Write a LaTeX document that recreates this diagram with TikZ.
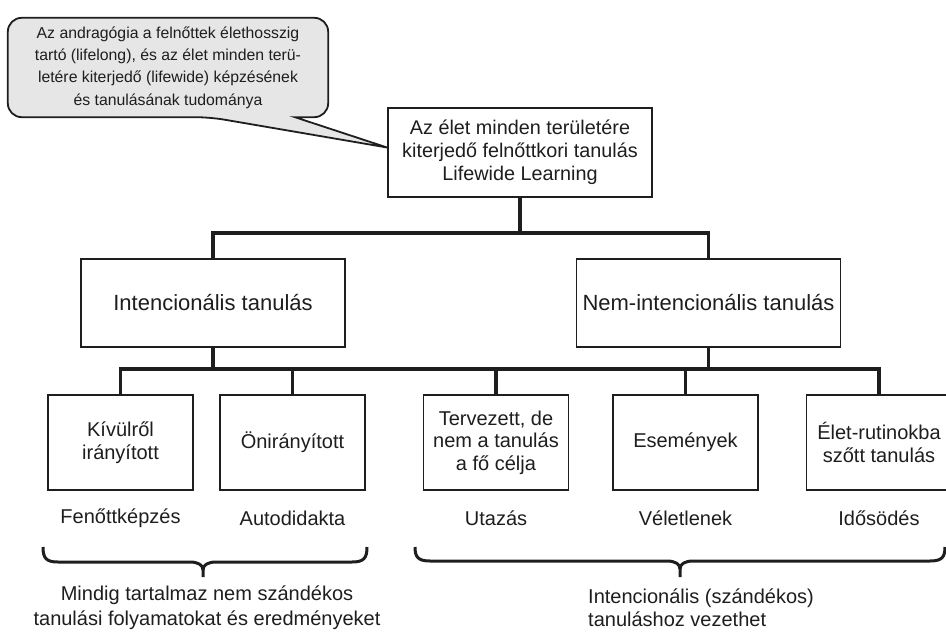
\documentclass[tikz,border=0pt]{standalone}
\usepackage{fontspec}
\setmainfont{Liberation Sans}
\usetikzlibrary{backgrounds}
\definecolor{ink}{HTML}{1E1E1E}
\definecolor{bubblegray}{HTML}{E6E6E6}
\tikzset{
  box/.style={draw=ink, line width=1.8pt, fill=white, inner sep=2pt, align=center, text=ink},
  mainbox/.style={box, minimum width=264pt, minimum height=88pt, font=\fontsize{22}{26}\selectfont},
  topbox/.style={box, minimum width=264pt, minimum height=89pt, font=\fontsize{19.8}{23}\selectfont},
  subbox/.style={box, minimum width=145pt, minimum height=95pt, font=\fontsize{20}{22.5}\selectfont},
  lbl/.style={font=\fontsize{20}{25}\selectfont, text=ink, align=center, inner sep=0pt},
  conn/.style={draw=ink, line width=3.3pt},
  bracestyle/.style={draw=ink, line width=3pt},
  bubbletext/.style={font=\fontsize{15.8}{22.3}\selectfont, text=ink, align=center,
    minimum width=320pt, minimum height=99pt, inner sep=0pt},
  bubbleshape/.style={draw=ink, line width=1.8pt, fill=bubblegray}
}
\begin{document}
\begin{tikzpicture}[x=1pt,y=-1pt]
\useasboundingbox (0,0) rectangle (946,632);

% callout text
\node[bubbletext] (bubble) at (168,67.5) {Az andragógia a felnőttek élethosszig\\tartó (lifelong), és az élet minden terü-\\letére kiterjedő (lifewide) képzésének\\és tanulásának tudománya};

% top box
\node[topbox] (top) at (520,152.5) {Az élet minden területére\\kiterjedő felnőttkori tanulás\\Lifewide Learning};

% second level
\node[mainbox] (int) at (213,303) {Intencionális tanulás};
\node[mainbox] (nem) at (708.5,303) {Nem-intencionális tanulás};

% third level
\node[subbox] (k1) at (120.5,442.5) {Kívülről\\irányított};
\node[subbox] (k2) at (292.5,442.5) {Önirányított};
\node[subbox] (k3) at (496,442.5) {Tervezett, de\\nem a tanulás\\a fő célja};
\node[subbox] (k4) at (685.5,442.5) {Események};
\node[subbox] (k5) at (879,442.5) {Élet-rutinokba\\szőtt tanulás};

% labels under boxes
\node[lbl] (l1) at (120.5,518) {Fenőttképzés};
\node[lbl] (l2) at (292.5,518) {Autodidakta};
\node[lbl] (l3) at (496,518) {Utazás};
\node[lbl] (l4) at (685.5,518) {Véletlenek};
\node[lbl] (l5) at (879,518) {Idősödés};

% bottom texts
\node[lbl] (txtL) at (207,607.5) {Mindig tartalmaz nem szándékos\\tanulási folyamatokat és eredményeket};
\node[lbl, align=left, anchor=west, font=\fontsize{20}{23}\selectfont] (txtR) at (588,607.5) {Intencionális (szándékos)\\tanuláshoz vezethet};

% connector bars
\coordinate (b1) at (0,233);
\coordinate (b2) at (0,369);

\begin{scope}[on background layer]
  \draw[bubbleshape] ([xshift=42pt]bubble.south) -- ([yshift=5pt]top.west) -- ([xshift=127pt]bubble.south)
    [rounded corners=14pt] -- (bubble.south east) -- (bubble.north east) -- (bubble.north west) -- (bubble.south west) -- cycle;
  \draw[conn] (top.south) -- (top.south |- b1);
  \draw[conn] (int.north) -- (int.north |- b1) -- (nem.north |- b1) -- (nem.north);
  \draw[conn] (int.south) -- (int.south |- b2);
  \draw[conn] (nem.south) -- (nem.south |- b2);
  \draw[conn] (k1.north) -- (k1.north |- b2) -- (k5.north |- b2) -- (k5.north);
  \draw[conn] (k2.north) -- (k2.north |- b2);
  \draw[conn] (k3.north) -- (k3.north |- b2);
  \draw[conn] (k4.north) -- (k4.north |- b2);
\end{scope}

% braces
\draw[bracestyle] (43,547) .. controls (43,558) and (46,562) .. (58,562) -- (190,562) .. controls (198,562) and (203,565) .. (203,570) -- (203,577);
\draw[bracestyle] (367,547) .. controls (367,558) and (364,562) .. (352,562) -- (216,562) .. controls (208,562) and (203,565) .. (203,570);
\draw[bracestyle] (415,547) .. controls (415,557) and (418,561) .. (430,561) -- (667,561) .. controls (675,561) and (680,564) .. (680,569) -- (680,577);
\draw[bracestyle] (945,547) .. controls (945,557) and (942,561) .. (930,561) -- (693,561) .. controls (685,561) and (680,564) .. (680,569);
\end{tikzpicture}
\end{document}
